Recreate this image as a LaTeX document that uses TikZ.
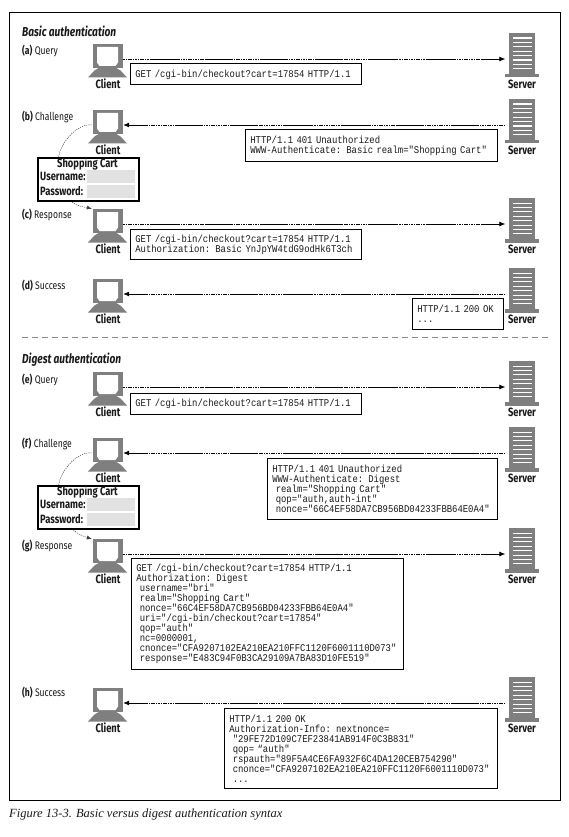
\documentclass[tikz,border=0pt]{standalone}
\usepackage{fontspec}
\usetikzlibrary{arrows.meta}
\setmainfont{Fira Sans}
\newfontfamily\condfont[FakeStretch=0.78]{Fira Sans}
\newfontfamily\msgfont[FakeStretch=0.865]{Liberation Mono}
\newfontfamily\capfont{Liberation Serif}
\definecolor{inkc}{HTML}{1A1A1A}
\definecolor{icong}{HTML}{7F7F7F}
\definecolor{fieldg}{HTML}{E2E2E2}
\tikzset{
  x=1pt,y=-1pt,
  framebox/.style={draw=black,line width=0.9pt},
  iconspot/.style={inner sep=0pt,minimum width=31pt,minimum height=30pt},
  srvspot/.style={inner sep=0pt,minimum width=33pt,minimum height=52pt},
  iconlabel/.style={inner sep=0pt,text=inkc,font=\condfont\fontsize{12}{12}\selectfont\bfseries},
  steplabel/.style={anchor=west,inner sep=0pt,text=inkc,font=\condfont\fontsize{11}{11}\selectfont},
  headlabel/.style={anchor=west,inner sep=0pt,text=inkc,font=\condfont\fontsize{13}{13}\selectfont\bfseries\itshape},
  msgbox/.style={draw=black,line width=0.7pt,anchor=north west,inner xsep=5pt,inner ysep=0pt,align=left,text=inkc,
     font=\msgfont\fontsize{10.3}{10}\selectfont},
  loginbox/.style={draw=black,line width=2pt,anchor=north west,minimum width=101pt,minimum height=43pt,inner sep=0pt},
  fieldbox/.style={fill=fieldg,anchor=west,minimum width=48pt,minimum height=13.5pt,inner sep=0pt},
  loginlabel/.style={anchor=west,inner sep=0pt,text=inkc,font=\condfont\fontsize{12}{12}\selectfont\bfseries},
  httpline/.style={line width=0.8pt,black,-{Latex[length=6pt,width=5pt]},
     dash pattern=on 1.6pt off .8pt on 1.6pt off .8pt on 1.6pt off .8pt on 1.6pt off .8pt on 1.6pt off .8pt on 1.6pt off .8pt on 1.6pt off .8pt on 1.6pt off .8pt on 1.6pt off .8pt on 1.6pt off .8pt on 1.6pt off .8pt on 28pt off .8pt},
  uiline/.style={line width=0.45pt,black!75,dash pattern=on 1.2pt off 1pt},
}
\newcommand{\clientat}[2]{%
  \node[iconspot] (#1) at (107.5,#2+15) {};
  \begin{scope}[shift={(#1.center)},y=-1pt,x=1pt]
    \fill[icong] (-15,-15) rectangle (15,9);
    \fill[white] (-10.5,-12) -- (10.5,-12) -- (10.5,3.5) -- (8,7) -- (-8,7) -- (-10.5,3.5) -- cycle;
    \fill[icong] (-8,8.5) -- (8,8.5) -- (13,11.5) -- (19.5,18.5) -- (-19.5,18.5) -- (-13,11.5) -- cycle;
  \end{scope}
  \node[iconlabel] at (108,#2+40) {Client};
}
\newcommand{\serverat}[2]{%
  \node[srvspot] (#1) at (522,#2+26) {};
  \begin{scope}[shift={(#1.center)},y=-1pt,x=1pt]
    \fill[icong] (-13,-26) rectangle (13,15);
    \fill[icong] (-17,15) rectangle (16.5,18.5);
    \foreach \k in {0,...,7}{\fill[white] (-9.5,-21.5+4.4*\k) rectangle (9.5,-20.4+4.4*\k);}
  \end{scope}
  \node[iconlabel] at (522,#2+51) {Server};
}
\newcommand{\cartat}[2]{%
  \node[loginbox] (#1) at (37,#2) {};
  \node[iconlabel] at (87.5,#2+6.5) {Shopping Cart};
  \node[loginlabel] at (40,#2+19) {Username:};
  \node[loginlabel] at (40,#2+34) {Password:};
  \node[fieldbox] at (87,#2+19.5) {};
  \node[fieldbox] at (87,#2+34.5) {};
}
\begin{document}
\begin{tikzpicture}
\useasboundingbox (0,0) rectangle (568,837);
\fill[white] (0,0) rectangle (568,837);
\draw[framebox] (9.5,12.5) rectangle (560,800);
\node[headlabel] at (22,31.5) {Basic authentication};
\node[headlabel] at (22,359.5) {Digest authentication};
\node[steplabel] at (22,50.5) {\textbf{(a)} Query};
\node[steplabel] at (22,116.5) {\textbf{(b)} Challenge};
\node[steplabel] at (22,215) {\textbf{(c)} Response};
\node[steplabel] at (22,286) {\textbf{(d)} Success};
\node[steplabel] at (22,379.5) {\textbf{(e)} Query};
\node[steplabel] at (22,444) {\textbf{(f)} Challenge};
\node[steplabel] at (22,545.5) {\textbf{(g)} Response};
\node[steplabel] at (22,692.5) {\textbf{(h)} Success};

\clientat{ca}{44}\serverat{sa}{33}
\clientat{cb}{110}\serverat{sb}{99}
\clientat{cc}{209}\serverat{sc}{198}
\clientat{cd}{279}\serverat{sd}{268}
\clientat{ce}{372}\serverat{se}{361}
\clientat{cf}{438}\serverat{sf}{427}
\clientat{cg}{539}\serverat{sg}{528}
\clientat{ch}{688}\serverat{sh}{677}

\draw[httpline] (ca.east) -- (sa.west);
\draw[httpline] (sb.west) -- (cb.east);
\draw[httpline] (cc.east) -- (sc.west);
\draw[httpline] (sd.west) -- (cd.east);
\draw[httpline] (ce.east) -- (se.west);
\draw[httpline] (sf.west) -- (cf.east);
\draw[httpline] (cg.east) -- (sg.west);
\draw[httpline] (sh.west) -- (ch.east);

\node[msgbox,text width=221pt,minimum height=21pt] (ma) at (130,63.5) {GET /cgi-bin/checkout?cart=17854 HTTP/1.1};
\node[msgbox,text width=242pt,minimum height=32pt] (mb) at (245,129.5) {HTTP/1.1 401 Unauthorized\\WWW-Authenticate: Basic realm="Shopping Cart"};
\node[msgbox,text width=221pt,minimum height=30pt] (mc) at (130,229) {GET /cgi-bin/checkout?cart=17854 HTTP/1.1\\Authorization: Basic YnJpYW4tdG9odHk6T3ch};
\node[msgbox,text width=81pt,minimum height=31pt] (md) at (412,298) {HTTP/1.1 200 OK\\...};
\node[msgbox,text width=221pt,minimum height=21pt] (me) at (130,393) {GET /cgi-bin/checkout?cart=17854 HTTP/1.1};
\node[msgbox,text width=220pt,minimum height=61pt] (mf) at (267,457.5) {HTTP/1.1 401 Unauthorized\\WWW-Authenticate: Digest\\\ realm="Shopping Cart"\\\ qop="auth,auth-int"\\\ nonce="66C4EF58DA7CB956BD04233FBB64E0A4"};
\node[msgbox,text width=262pt,minimum height=111pt] (mg) at (131,558) {GET /cgi-bin/checkout?cart=17854 HTTP/1.1\\Authorization: Digest\\\ username="bri"\\\ realm="Shopping Cart"\\\ nonce="66C4EF58DA7CB956BD04233FBB64E0A4"\\\ uri="/cgi-bin/checkout?cart=17854"\\\ qop="auth"\\\ nc=0000001,\\\ cnonce="CFA9207102EA210EA210FFC1120F6001110D073"\\\ response="E483C94F0B3CA29109A7BA83D10FE519"};
\node[msgbox,text width=263pt,minimum height=80pt] (mh) at (224,708) {HTTP/1.1 200 OK\\Authorization-Info: nextnonce=\\\ "29FE72D109C7EF23841AB914F0C3B831"\\\ qop= “auth"\\\ rspauth="89F5A4CE6FA932F6C4DA120CEB754290"\\\ cnonce="CFA9207102EA210EA210FFC1120F6001110D073"\\\ ...};

\cartat{lb}{157}
\cartat{lf}{485}
\draw[uiline] (cb.west) to[out=172,in=82,looseness=0.8] (lb.143);
\draw[uiline,-{Latex[length=5pt,width=4pt]}] (lb.234) to[out=-45,in=165,looseness=0.8] (cc.north west);
\draw[uiline] (cf.west) to[out=172,in=82,looseness=0.8] (lf.143);
\draw[uiline,-{Latex[length=5pt,width=4pt]}] (lf.236) to[out=-45,in=165,looseness=0.8] (cg.north west);

\draw[black!45,line width=0.6pt,dash pattern=on 6pt off 4pt] (22,337) -- (551,337);
\node[anchor=west,inner sep=0pt,text=inkc,font=\capfont\fontsize{12.5}{13}\selectfont\itshape] at (9,815) {Figure 13-3. Basic versus digest authentication syntax};
\end{tikzpicture}
\end{document}
